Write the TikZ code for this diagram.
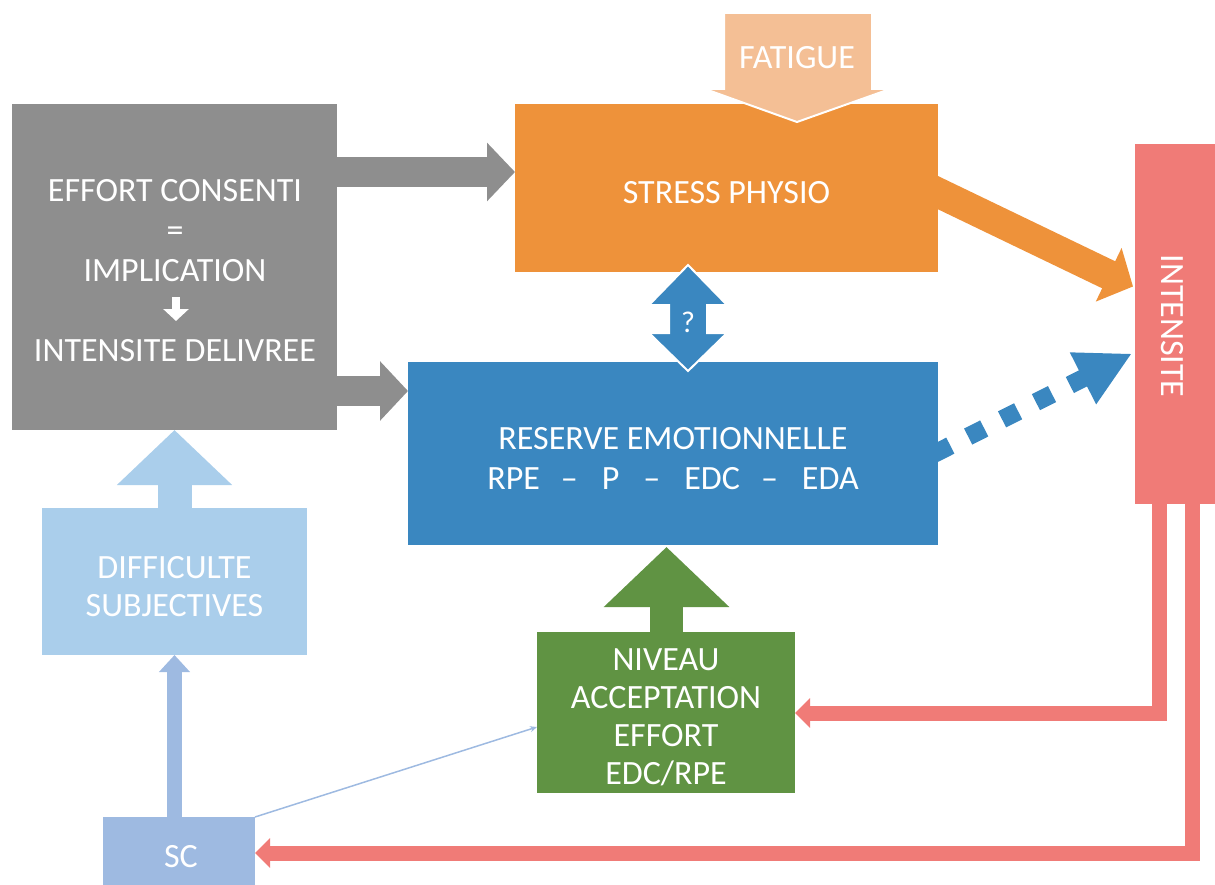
\documentclass[tikz,border=0pt]{standalone}
\usepackage{fontspec}
\setmainfont{Carlito}
\usetikzlibrary{arrows.meta,calc}
\definecolor{cgray}{HTML}{8E8E8E}
\definecolor{corange}{HTML}{EE923A}
\definecolor{cfat}{HTML}{F4BF95}
\definecolor{cblue}{HTML}{3A87C0}
\definecolor{cred}{HTML}{F07B77}
\definecolor{cgreen}{HTML}{609343}
\definecolor{clblue}{HTML}{AACEEB}
\definecolor{csc}{HTML}{9EBAE1}
\pgfdeclarelayer{bg}
\pgfsetlayers{bg,main}
\begin{document}
\begin{tikzpicture}[x=1pt,y=-1pt,
  box/.style={rectangle, inner sep=0pt, outer sep=0pt, anchor=north west},
  txt/.style={inner sep=0pt, text=white, align=center, font=\fontsize{34}{40}\selectfont},
  txts/.style={txt, font=\fontsize{34}{38}\selectfont},
  rline/.style={draw=cred, line width=15pt, line join=miter, -{Triangle[length=15pt,width=29pt]}},
]
\useasboundingbox (0,0) rectangle (1215,885);

% boxes
\node[box, fill=cgray, minimum width=325pt, minimum height=326pt] (gray) at (12,104) {};
\node[box, fill=corange, minimum width=423pt, minimum height=168pt] (stress) at (515,104) {};
\node[box, fill=cblue, minimum width=530pt, minimum height=183pt] (reserve) at (408,362) {};
\node[box, fill=cred, minimum width=80pt, minimum height=360pt] (inten) at (1135,144) {};
\node[box, fill=clblue, minimum width=265pt, minimum height=147pt] (diff) at (42,508) {};
\node[box, fill=cgreen, minimum width=258pt, minimum height=161pt] (green) at (537,632) {};
\node[box, fill=csc, minimum width=152pt, minimum height=70pt] (sc) at (103,817) {};

% texts
\node[txt] (stresst) at ($(stress.center)+(0,5)$) {STRESS PHYSIO};
\node[txt] (reservet) at ($(reserve.center)+(0,5)$)
  {RESERVE EMOTIONNELLE\\RPE\hspace{21pt}--\hspace{24pt}P\hspace{24pt}--\hspace{24pt}EDC\hspace{21pt}--\hspace{24pt}EDA};
\node[txt, rotate=-90] (intent) at (1172,326) {INTENSITE};
\node[txts] (difft) at ($(diff.center)+(0,5)$) {DIFFICULTE\\SUBJECTIVES};
\node[txts] (greent) at ($(green.center)+(0,5)$) {NIVEAU\\ACCEPTATION\\EFFORT\\EDC/RPE};
\node[txt] (sct) at ($(sc.center)+(2,5)$) {SC};
\node[txt] (grayt) at (175,271) {EFFORT CONSENTI\\=\\IMPLICATION\\[40pt]INTENSITE DELIVREE};
\draw[white, line width=8pt, -{Triangle[length=12pt,width=25pt]}] ($(grayt.center)+(1,26)$) coordinate (wa) -- ($(wa)+(0,24)$) coordinate (wb);

% background connectors
\begin{pgfonlayer}{bg}
  \coordinate (oStart) at ($(stress.east)+(-18,-4)$);
  \coordinate (oEnd) at ($(inten.west)+(-2,-37.5)$);
  \draw[draw=corange, line width=30pt, -{Triangle[length=27pt,width=58pt]}] (oStart) -- (oEnd);
  \coordinate (dStart) at ($(reserve.east)+(-18,7.5)$);
  \coordinate (dEnd) at ($(inten.west)+(-3,29.5)$);
  \draw[draw=cblue, line width=18pt, dash pattern=on 18pt off 20pt, dash phase=22pt,
    -{Triangle[length=55pt,width=54pt]}] (dStart) -- (dEnd);
  \coordinate (r1) at ($(inten.south west)+(24,-5)$);
  \coordinate (r2) at ($(inten.south west)+(57,-5)$);
  \draw[rline] (r1) |- (green.east |- 0,713);
  \draw[rline] (r2) |- (sc.east |- 0,853);
\end{pgfonlayer}

% gray arrows
\draw[draw=cgray, line width=30pt, -{Triangle[length=28pt,width=57pt]}] (gray.east |- 0,172) -- (stress.west |- 0,172);
\draw[draw=cgray, line width=30pt, -{Triangle[length=28pt,width=58pt]}] (gray.east |- 0,391) -- (reserve.west |- 0,391);

% green up arrow
\draw[draw=cgreen, line width=33pt, -{Triangle[length=60pt,width=122pt]}] ($(green.north)+(0.5,0)$) -- ($(green.north |- reserve.south)+(0.5,2)$);
% light blue up arrow
\draw[draw=clblue, line width=34pt, -{Triangle[length=55pt,width=112pt]}] (diff.north) -- (diff.north |- gray.south);
% SC up arrow
\draw[draw=csc, line width=15pt, -{Triangle[length=17pt,width=30pt]}] (diff.south |- sc.north) -- (diff.south);
% thin line
\draw[draw=csc, line width=1.5pt, -{Stealth[length=7pt,width=6pt]}] (sc.north east) -- (green.west |- 0,727);

% fatigue arrow
\filldraw[fill=cfat, draw=white, line width=2pt, line join=miter]
  (724,13) -- (872,13) -- (872,89) -- (890,89) -- (797,122) -- (705,89) -- (724,89) -- cycle;
\node[txt] (fatigue) at (797,58) {FATIGUE};

% ? double arrow
\filldraw[fill=cblue, draw=white, line width=2pt, line join=miter]
  (688,265) -- (727,305) -- (707,305) -- (707,333) -- (727,333) -- (688,371) -- (649,333) -- (669,333)
  -- (669,305) -- (649,305) -- cycle;
\node[txt, font=\fontsize{30}{32}\selectfont] (q) at (688,322) {?};
\end{tikzpicture}
\end{document}
